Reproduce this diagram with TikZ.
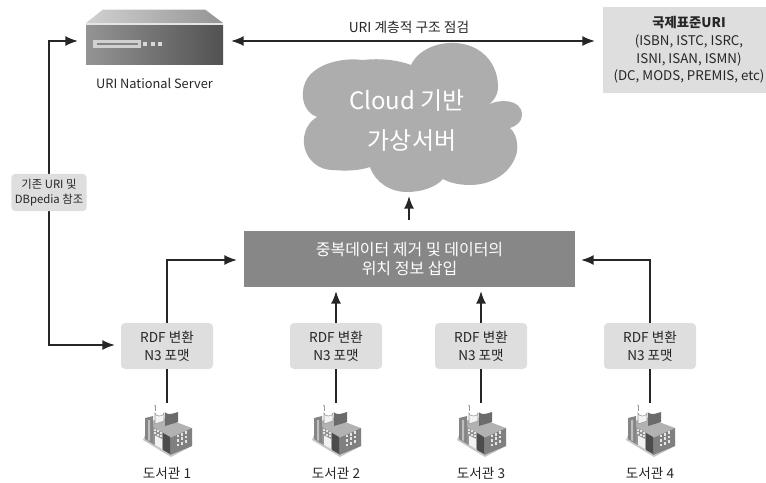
\documentclass[tikz,border=0pt]{standalone}
\usepackage{fontspec}
\setmainfont{Noto Sans CJK KR}
\usetikzlibrary{arrows.meta}
\tikzset{
  px/.style={x=0.75pt,y=-0.75pt},
  conn/.style={line width=1.4pt,black!85,-{Latex[length=9.5pt,width=7.5pt]}},
  bothconn/.style={line width=1.4pt,black!85,{Latex[length=9.5pt,width=7.5pt]}-{Latex[length=9.5pt,width=7.5pt]}},
  plainconn/.style={line width=1.4pt,black!85},
  rdfbox/.style={fill=black!13,rounded corners=3pt,minimum width=69pt,minimum height=34.5pt,align=center,font=\fontsize{10.2}{13.5}\selectfont,inner sep=0pt,text=black!85},
  lbl/.style={font=\fontsize{10.2}{12}\selectfont,text=black!85,align=center,inner sep=0pt},
}
\newcommand{\bldg}[1]{%
\begin{scope}[shift={(#1,0)}]
 \fill[black!22] (-24,440) -- (4,457) -- (25,446) -- (25,440) -- (-20,430) -- cycle;
 \fill[black!30] (-14,421) -- (-7,416) -- (25,428) -- (3,438) -- (-14,428) -- cycle;
 \fill[black!48] (-22,418) -- (-14,416) -- (-14,444) -- (-22,439) -- cycle;
 \fill[black!25] (-19,420) -- (-17,420) -- (-17,441) -- (-19,440) -- cycle;
 \fill[black!42] (-14,427) -- (3,437) -- (3,453) -- (-14,444) -- cycle;
 \fill[black!50] (3,438) -- (25,428) -- (25,446) -- (3,455) -- cycle;
 \fill[black!70] (-4,433) -- (3,437) -- (3,454) -- (-4,450) -- cycle;
 \fill[black!5] (-12,435.5) -- (-5,439) -- (-5,449) -- (-12,445) -- cycle;
 \foreach \u in {-13,-10,-7} \foreach \v in {0,3.5}
   \fill[black!10] (\u,{428+(\u+14)*0.55+\v}) rectangle ++(2,2);
 \fill[black!5,draw=black!40,line width=0.4pt] (-12,424) -- (-12,413) arc (180:0:4.5 and 3) -- (-3,421) -- cycle;
 \fill[black!58] (-2,412.5) .. controls (2,415.5) and (6,413.5) .. (11,412) -- (11,422) -- (-2,426) -- cycle;
 \fill[black!30] (-12,405.5) circle (1);
 \draw[black!40,line width=0.4pt] (-12,405.5) -- (-12,411);
 \foreach \u in {10,14,18} \foreach \v in {0,4.5,9}
   \fill[black!10] (\u,{437-(\u-5)*0.45+\v}) rectangle ++(2.2,2.6);
\end{scope}}
\begin{document}
\begin{tikzpicture}[px]
\useasboundingbox (0,0) rectangle (766,482);
% server
\coordinate (srvE) at (231,41);
\coordinate (srvW) at (78,41);
\shade[left color=black!18,right color=black!42] (86,23) -- (103,9.5) -- (205,9.5) -- (223,23) -- cycle;
\fill[black!10] (86,22.5) rectangle (223,25.5);
\shade[left color=black!42,right color=black!68] (86,25) rectangle (223,64);
\fill[black!18] (93,40) rectangle (141,48);
\fill[black!48] (97,43.2) rectangle (138,44.8);
\foreach \xx in {145,153,160} \fill[black!15] (\xx-1.6,42.4) rectangle (\xx+1.6,45.6);
\node[lbl,font=\fontsize{9.6}{12}\selectfont] (srvlabel) at (154.5,83) {URI National Server};
% cloud
\fill[black!32] (333,170)
 .. controls (312,170) and (300,150) .. (305,133)
 .. controls (307,125) and (312,120) .. (317,117)
 .. controls (303,112) and (300,95) .. (305,83)
 .. controls (312,65) and (340,57) .. (363,60)
 .. controls (380,58) and (398,60) .. (411,65)
 .. controls (418,50) and (437,42) .. (455,43)
 .. controls (480,44) and (498,62) .. (498,87)
 .. controls (498,95) and (493,102) .. (488,105)
 .. controls (497,99) and (522,98) .. (522,115)
 .. controls (522,122) and (516,126) .. (510,128)
 .. controls (518,135) and (519,150) .. (515,158)
 .. controls (508,175) and (490,185) .. (470,185)
 .. controls (460,185) and (450,183) .. (443,179)
 .. controls (435,188) and (420,192) .. (407,192)
 .. controls (390,192) and (375,182) .. (370,167)
 .. controls (358,171) and (345,171) .. (333,170) -- cycle;
\node[font=\fontsize{18}{30}\selectfont,text=white,align=center,inner sep=0pt] (cloud) at (407,121) {Cloud 기반\\\hspace*{7.5pt}가상서버};
\coordinate (cloudS) at (409,196);
% intl box
\node[fill=black!13,minimum width=122.5pt,minimum height=64.5pt,inner sep=0pt] (intl) at (684.5,49.5) {};
\node[inner sep=0pt,align=center,font=\fontsize{10}{13.2}\selectfont,text=black!85] (intltext) at (689,50) {{\bfseries 국제표준URI}\\(ISBN, ISTC, ISRC,\\ISNI, ISAN, ISMN)\\(DC, MODS, PREMIS, etc)};
\coordinate (intlW) at (595,41);
% top connector
\draw[bothconn] (srvE) -- (intlW);
\node[lbl,font=\fontsize{10.3}{12}\selectfont] (toplabel) at (409,27) {URI 계층적 구조 점검};
% main box
\node[fill=black!47,minimum width=248pt,minimum height=42pt,inner sep=0pt,align=center,font=\fontsize{12}{14.5}\selectfont,text=white] (main) at (409.5,259) {중복데이터 제거 및 데이터의\\위치 정보 삽입};
\draw[conn] (main.north -| cloudS) ++(0,-11) -- (cloudS);
% rdf boxes
\node[rdfbox] (r1) at (167,346) {RDF 변환\\N3 포맷};
\node[rdfbox] (r2) at (336,346) {RDF 변환\\N3 포맷};
\node[rdfbox] (r3) at (481,346) {RDF 변환\\N3 포맷};
\node[rdfbox] (r4) at (650,346) {RDF 변환\\N3 포맷};
\coordinate (mL) at (237,260);
\coordinate (mR) at (581,260);
\coordinate (m2) at (336,291);
\coordinate (m3) at (481,291);
\draw[conn] (r1.north) |- (mL);
\draw[conn] (r2.north) -- (m2);
\draw[conn] (r3.north) -- (m3);
\draw[conn] (r4.north) |- (mR);
% left loop
\coordinate (lbend) at (49,345);
\coordinate (r1W) at (115,345);
\draw[bothconn] (srvW) -| (lbend) -- (r1W);
\node[fill=black!13,rounded corners=3pt,minimum width=56.5pt,minimum height=28pt,inner sep=0pt,align=center,font=\fontsize{8.5}{11.3}\selectfont,text=black!85] (ref) at (49,192.5) {기존 URI 및\\DBpedia 참조};
% libraries
\bldg{167}\bldg{336}\bldg{481}\bldg{650}
\foreach \n/\xx in {1/167,2/336,3/481,4/650}{
  \coordinate (b\n) at (\xx,403);
  \draw[plainconn] (r\n.south) -- (b\n);
  \node[lbl] (t\n) at (\xx,473) {도서관 \n};
}
\end{tikzpicture}
\end{document}
